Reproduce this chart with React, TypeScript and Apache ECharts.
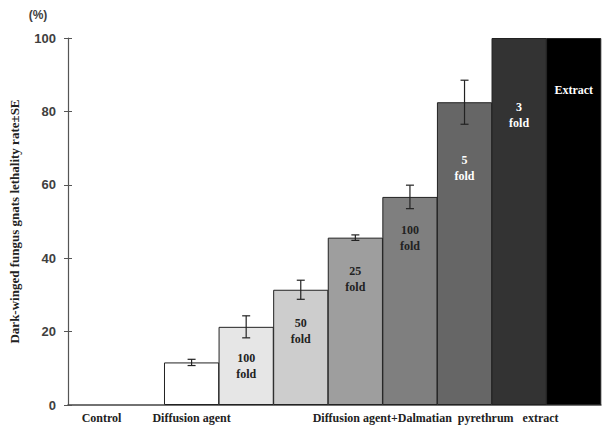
import React, { useEffect, useRef } from "react";
import * as echarts from "echarts";

const barLabels = ["", "", "100\nfold", "50\nfold", "25\nfold", "100\nfold", "5\nfold", "3\nfold", "Extract"];
const lethality = [0, 11.6, 21.3, 31.4, 45.6, 56.7, 82.5, 100, 100];
const stdErr = [0, 0.85, 3.0, 2.6, 0.75, 3.2, 6.0, 0, 0];
const groupLabels = ["Control", "Diffusion agent", "Diffusion agent+Dalmatian  pyrethrum   extract"];
const groupLabelX = [-0.65, 1, 5.47];

const barColors = ["#ffffff", "#ffffff", "#e6e6e6", "#cdcdcd", "#9e9e9e", "#7f7f7f", "#666666", "#333333", "#000000"];
const labelColors = ["#222", "#222", "#222", "#222", "#222", "#222", "#ffffff", "#ffffff", "#ffffff"];
const labelDistance = [0, 0, 23, 25, 25, 25, 50, 61, 44];

export default function App() {
  const ref = useRef<HTMLDivElement>(null);
  useEffect(() => {
    if (!ref.current) return;
    const chart = echarts.init(ref.current, null, { renderer: "svg" });
    const serif = "'Liberation Serif', 'DejaVu Serif', serif";
    const barData = lethality.map((v, i) => ({
      value: [i, v],
      itemStyle: { color: barColors[i], borderWidth: v > 0 ? 1 : 0 },
      label: {
        show: barLabels[i] !== "",
        formatter: barLabels[i],
        color: labelColors[i],
        distance: labelDistance[i],
      },
    }));
    const errData = lethality.map((v, i) => [i, v, stdErr[i]]).filter((d) => d[2] > 0);
    chart.setOption({
      animation: false,
      grid: { left: 62, right: 4, top: 38, bottom: 23 },
      xAxis: {
        type: "value",
        min: -1.264,
        max: 8.5,
        axisLine: { show: true, onZero: false, lineStyle: { color: "#444", width: 1.5 } },
        axisTick: { show: false },
        axisLabel: { show: false },
        splitLine: { show: false },
      },
      yAxis: [
        {
          type: "value",
          min: 0,
          max: 100,
          interval: 20,
          name: "Dark-winged fungus gnats lethality rate±SE",
          nameLocation: "middle",
          nameGap: 47,
          nameTextStyle: { fontFamily: serif, fontWeight: "bold", fontSize: 13, color: "#222" },
          axisLine: { show: true, onZero: false, lineStyle: { color: "#555", width: 1.2 } },
          axisTick: { show: true, length: 4, lineStyle: { color: "#555" } },
          axisLabel: { fontFamily: "'Liberation Sans', Arial, sans-serif", fontWeight: "bold", fontSize: 13, color: "#404040", margin: 12 },
          splitLine: { show: false },
        },
        {
          type: "value",
          position: "left",
          min: 0,
          max: 100,
          interval: 20,
          axisLine: { show: false, onZero: false },
          axisTick: { show: true, inside: true, length: 4, lineStyle: { color: "#555" } },
          axisLabel: { show: false },
          splitLine: { show: false },
        },
      ],
      series: [
        {
          type: "bar",
          data: barData,
          barWidth: 55.2,
          itemStyle: { borderColor: "#222" },
          label: {
            position: "insideTop",
            fontFamily: serif,
            fontWeight: "bold",
            fontSize: 12,
            lineHeight: 16,
          },
        },
        {
          type: "custom",
          data: errData,
          z: 5,
          renderItem: (params: any, api: any) => {
            const x = api.value(0);
            const y = api.value(1);
            const e = api.value(2);
            const hi = api.coord([x, y + e]);
            const lo = api.coord([x, y - e]);
            const cap = 4;
            const style = { stroke: "#222", lineWidth: 1.2 };
            return {
              type: "group",
              children: [
                { type: "line", shape: { x1: hi[0], y1: hi[1], x2: lo[0], y2: lo[1] }, style },
                { type: "line", shape: { x1: hi[0] - cap, y1: hi[1], x2: hi[0] + cap, y2: hi[1] }, style },
                { type: "line", shape: { x1: lo[0] - cap, y1: lo[1], x2: lo[0] + cap, y2: lo[1] }, style },
              ],
            };
          },
        },
      ],
    });
    const graphics: any[] = groupLabels.map((t, i) => ({
      type: "text",
      x: chart.convertToPixel({ xAxisIndex: 0 }, groupLabelX[i]) as number,
      y: 418,
      style: {
        text: t,
        fontFamily: serif,
        fontWeight: "bold",
        fontSize: 12,
        fill: "#222",
        align: "center",
        verticalAlign: "middle",
      },
    }));
    graphics.push({
      type: "text",
      x: 38,
      y: 15,
      style: {
        text: "(%)",
        fontFamily: "'Liberation Sans', Arial, sans-serif",
        fontWeight: "bold",
        fontSize: 12,
        fill: "#404040",
        align: "center",
        verticalAlign: "middle",
      },
    });
    chart.setOption({ graphic: graphics });
    return () => chart.dispose();
  }, []);
  return <div ref={ref} style={{ position: "fixed", left: 0, top: 0, width: 605, height: 428, background: "#fff" }} />;
}
